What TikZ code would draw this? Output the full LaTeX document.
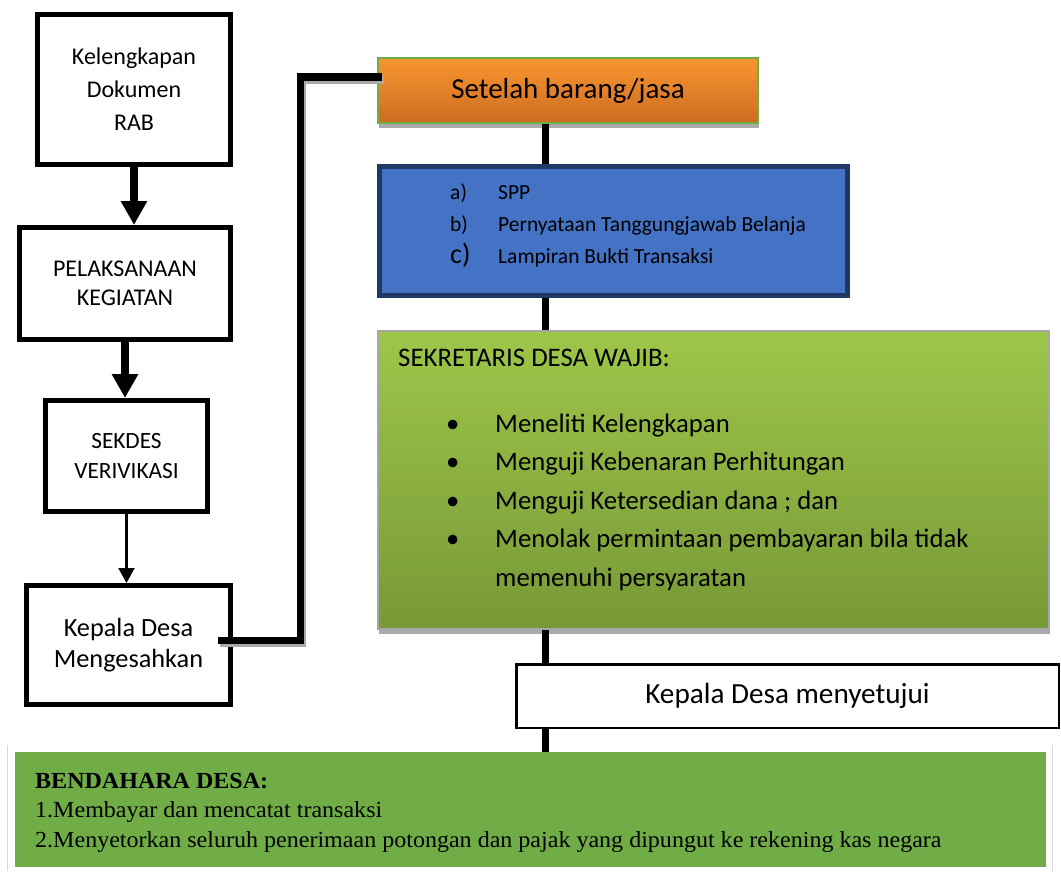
\documentclass[tikz,border=0pt]{standalone}
\usepackage{fontspec}
\setmainfont{Carlito}
\newfontfamily\timesf[FakeStretch=1.045]{Liberation Serif}
\usetikzlibrary{arrows.meta,shadows}
\definecolor{orangetop}{RGB}{248,150,48}
\definecolor{orangebot}{RGB}{205,108,33}
\definecolor{obord}{RGB}{112,173,71}
\definecolor{bluefill}{RGB}{68,114,196}
\definecolor{blueborder}{RGB}{32,56,100}
\definecolor{greentop}{RGB}{158,198,73}
\definecolor{greenbot}{RGB}{119,153,55}
\definecolor{greenbord}{RGB}{166,166,166}
\definecolor{shadowg}{RGB}{170,170,170}
\definecolor{bgreen}{RGB}{112,173,71}
\definecolor{lightline}{RGB}{215,215,215}
\begin{document}
\begin{tikzpicture}[x=1pt,y=-1pt,
  flowbox/.style={draw=black, line width=5pt, inner sep=0pt, align=center},
  conn/.style={line width=7.5pt, draw=black},
  bigarrow/.style={line width=7.5pt, -{Triangle[length=24pt,width=25pt]}},
  thinarrow/.style={line width=2.2pt, -{Triangle[length=15pt,width=16pt]}},
  boxshadow/.style={drop shadow={shadow xshift=1pt, shadow yshift=-5pt, fill=shadowg, opacity=1}},
]
\useasboundingbox[fill=white] (0,0) rectangle (1061,871);

% left column
\node[flowbox, minimum width=193pt, minimum height=150pt, font=\fontsize{24}{33}\selectfont] (b1) at (134,89.5) {Kelengkapan\\Dokumen\\RAB};
\node[flowbox, minimum width=211pt, minimum height=112pt, font=\fontsize{24}{29}\selectfont] (b2) at (125,283.5) {PELAKSANAAN\\KEGIATAN};
\node[flowbox, minimum width=162pt, minimum height=111pt, font=\fontsize{23.3}{30}\selectfont] (b3) at (126.5,456) {SEKDES\\VERIVIKASI};
\node[flowbox, minimum width=204pt, minimum height=119pt, font=\fontsize{26.3}{31}\selectfont] (b4) at (128.5,645) {Kepala Desa\\Mengesahkan};

\draw[bigarrow] (b1.south) -- (b1.south |- b2.north);
\draw[bigarrow] (b2.south) -- (b2.south |- b3.north);
\draw[thinarrow] (b3.south) -- (b3.south |- b4.north);

% right column
\node[draw=obord, line width=1.5pt, top color=orangetop, bottom color=orangebot, minimum width=380pt, minimum height=65pt, inner sep=0pt, boxshadow, font=\fontsize{29}{35}\selectfont] (ob) at (568,90.5) {Setelah barang/jasa};

\node[draw=blueborder, fill=bluefill, line width=5pt, minimum width=468pt, minimum height=129pt, inner sep=0pt] (bb) at (613.5,231) {};
\node[anchor=base west, inner sep=0pt, font=\fontsize{21.5}{32}\selectfont] (bl) at (450,199)
  {\begin{tabular}[t]{@{}l@{}l@{}}
   \makebox[48pt][l]{a)} & SPP\\
   \makebox[48pt][l]{b)} & Pernyataan Tanggungjawab Belanja\\
   \makebox[48pt][l]{\fontsize{28}{32}\selectfont c)} & Lampiran Bukti Transaksi
   \end{tabular}};

\node[draw=greenbord, line width=2pt, top color=greentop, bottom color=greenbot, minimum width=671pt, minimum height=298pt, inner sep=0pt, boxshadow] (sk) at (713.5,480) {};
\node[anchor=base west, inner sep=0pt, font=\fontsize{26.8}{38.5}\selectfont] (skt) at (398,366) {SEKRETARIS DESA WAJIB:};
\node[anchor=base west, inner sep=0pt, font=\fontsize{26.7}{38.5}\selectfont] (skl) at (447.5,432)
  {\begin{tabular}[t]{@{}l@{}l@{}}
   \makebox[47.5pt][l]{\makebox[10pt]{\textbullet}} & Meneliti Kelengkapan\\
   \makebox[47.5pt][l]{\makebox[10pt]{\textbullet}} & Menguji Kebenaran Perhitungan\\
   \makebox[47.5pt][l]{\makebox[10pt]{\textbullet}} & Menguji Ketersedian dana ; dan\\
   \makebox[47.5pt][l]{\makebox[10pt]{\textbullet}} & Menolak permintaan pembayaran bila tidak\\
   & memenuhi persyaratan
   \end{tabular}};

\node[draw=black, line width=2.5pt, fill=white, minimum width=542.5pt, minimum height=63.5pt, inner sep=0pt, font=\fontsize{29.2}{35}\selectfont] (km) at (787.5,696) {Kepala Desa menyetujui};

\draw[lightline, line width=1pt] (7.5,745) -- (7.5,871);
\draw[lightline, line width=1pt] (1052.5,745) -- (1052.5,871);
\node[fill=bgreen, minimum width=1031pt, minimum height=115pt, inner sep=0pt] (bd) at (530.5,809.5) {};
\node[anchor=base west, inner sep=0pt, font=\timesf\fontsize{23}{29.5}\selectfont] (bdt) at (35,788)
  {\begin{tabular}[t]{@{}l@{}}
   \textbf{BENDAHARA DESA:}\\
   1.Membayar dan mencatat transaksi\\
   2.Menyetorkan seluruh penerimaan potongan dan pajak yang dipungut ke rekening kas negara
   \end{tabular}};

% connectors
\coordinate (cx) at (545.5,0);
\draw[conn] (cx |- ob.south) -- (cx |- bb.north);
\draw[conn] (cx |- bb.south) -- (cx |- sk.north);
\draw[conn] (cx |- sk.south) -- (cx |- km.north);
\draw[conn] (cx |- km.south) -- (cx |- bd.north);

\coordinate (e1) at (218,640.5);
\coordinate (ev) at (300.5,77);
\coordinate (e2) at (382,77);
\draw[line width=7.5pt, shadowg, transform canvas={xshift=1.5pt,yshift=-3pt}] (e1) -| (ev) -- (e2);
\draw[conn] (e1) -| (ev) -- (e2);
\end{tikzpicture}
\end{document}
